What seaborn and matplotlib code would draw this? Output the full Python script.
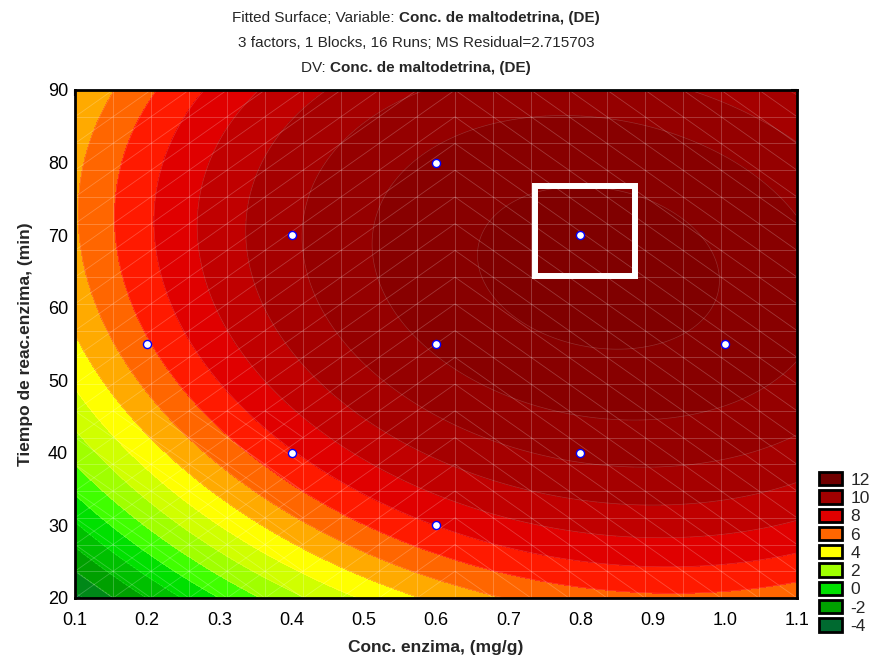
import numpy as np
import matplotlib
matplotlib.use("Agg")
import matplotlib.pyplot as plt
import seaborn as sns
from matplotlib.patches import Patch, Rectangle
from matplotlib.collections import LineCollection

sns.set_style("white")
plt.rcParams['font.family'] = ['Liberation Sans', 'DejaVu Sans']

# puntos del diseño (conc. enzima, tiempo)
enzima_pts = [0.2, 0.4, 0.4, 0.6, 0.6, 0.6, 0.8, 0.8, 1.0]
tiempo_pts = [55, 70, 40, 80, 55, 30, 70, 40, 55]

sup_max = 12.4
opt_enzima = 0.825
opt_tiempo = 65.5
curv_enzima = 14.6
curv_tiempo = 0.00326
interaccion = 0.068

niveles = list(range(-6, 14))
colores_banda = ['#005a30', '#006a30', '#008818', '#00a000', '#00c000', '#00e000',
                 '#40ff00', '#a0ff00', '#d0ff00', '#ffff00', '#ffaa00', '#ff6600',
                 '#ff1a00', '#e00000', '#c00000', '#a50000', '#950000', '#880000',
                 '#800000']

ley_valores = [12, 10, 8, 6, 4, 2, 0, -2, -4]
ley_colores = ['#700000', '#a00000', '#e00000', '#ff6600', '#ffff00', '#a0ff00',
               '#00e000', '#00a000', '#006a30']

# caja blanca alrededor del punto (0.8, 70)
caja_x = [0.737, 0.875]
caja_y = [64.35, 76.75]

x = np.linspace(0.1, 1.1, 300)
y = np.linspace(20, 90, 300)
X, Y = np.meshgrid(x, y)
dx = X - opt_enzima
dy = Y - opt_tiempo
Z = sup_max - curv_enzima * dx**2 - curv_tiempo * dy**2 - interaccion * dx * dy

fig = plt.figure(figsize=(8.79, 6.59), dpi=100)
ax = fig.add_axes([75/879, 61/659, 722/879, 508/659])

ax.contourf(X, Y, Z, levels=niveles, colors=colores_banda)
ax.contour(X, Y, Z, levels=niveles, colors='white', alpha=0.18, linewidths=0.5)

# malla de la superficie
gx = np.linspace(0.1, 1.1, 20)
gy = np.linspace(20, 90, 20)
ax.vlines(gx, 20, 90, colors='white', alpha=0.25, lw=0.6)
ax.hlines(gy, 0.1, 1.1, colors='white', alpha=0.25, lw=0.6)
segs = []
for i in range(19):
    for j in range(19):
        if gx[i] < 0.6:
            segs.append([(gx[i], gy[j]), (gx[i+1], gy[j+1])])
        else:
            segs.append([(gx[i], gy[j+1]), (gx[i+1], gy[j])])
        if gx[i] < 0.4 and gy[j] < 45:
            segs.append([(gx[i], gy[j+1]), (gx[i+1], gy[j])])
ax.add_collection(LineCollection(segs, colors='white', alpha=0.22, lw=0.6))

sns.scatterplot(x=enzima_pts, y=tiempo_pts, ax=ax, color='white', edgecolor='#0000ff',
                linewidth=1, s=34, zorder=5)

ax.add_patch(Rectangle((caja_x[0], caja_y[0]), caja_x[1]-caja_x[0], caja_y[1]-caja_y[0],
                       fill=False, edgecolor='white', lw=4.3, zorder=6))

ax.set_xlim(0.1, 1.1)
ax.set_ylim(20, 90)
ax.set_xticks(np.arange(0.1, 1.15, 0.1))
ax.set_xticklabels([f"{v:.1f}" for v in np.arange(0.1, 1.15, 0.1)])
ax.set_yticks(range(20, 91, 10))
ax.tick_params(direction='in', length=4, width=1.5, labelsize=13, colors='black',
               top=True, right=True)
ax.tick_params(axis='x', pad=10)
ax.tick_params(axis='y', pad=5)
for s in ax.spines.values():
    s.set_linewidth(2)
    s.set_color('black')

ax.set_xlabel('Conc. enzima, (mg/g)', fontsize=12.5, fontweight='bold', labelpad=8)
ax.set_ylabel('Tiempo de reac.enzima, (min)', fontsize=12.5, fontweight='bold', labelpad=11)

# titulo en tres lineas con partes en negrita
rend = fig.canvas.get_renderer()
def linea(yf, partes, size=11, cx=416):
    piezas = []
    total = 0
    for txt, peso in partes:
        t = fig.text(0, yf, txt, fontsize=size, fontweight=peso, ha='left', va='center')
        w = t.get_window_extent(renderer=rend).width
        piezas.append((t, w))
        total += w
    xp = cx - total / 2
    for t, w in piezas:
        t.set_x(xp / 879)
        xp += w

linea(1 - 18/659, [('Fitted Surface; Variable: ', 'normal'),
                   ('Conc. de maltodetrina, (DE)', 'bold')])
linea(1 - 43/659, [('3 factors, 1 Blocks, 16 Runs; MS Residual=2.715703', 'normal')])
linea(1 - 68/659, [('DV: ', 'normal'), ('Conc. de maltodetrina, (DE)', 'bold')])

handles = [Patch(facecolor=c, edgecolor='black', linewidth=2) for c in ley_colores]
fig.legend(handles, [str(v) for v in ley_valores], loc='upper left',
           bbox_to_anchor=(819/879, 1 - 472/659), frameon=False, fontsize=12.5,
           handlelength=1.3, handleheight=0.8, handletextpad=0.5,
           labelspacing=0.15, borderpad=0, borderaxespad=0)

fig.savefig('out.png', dpi=100)
